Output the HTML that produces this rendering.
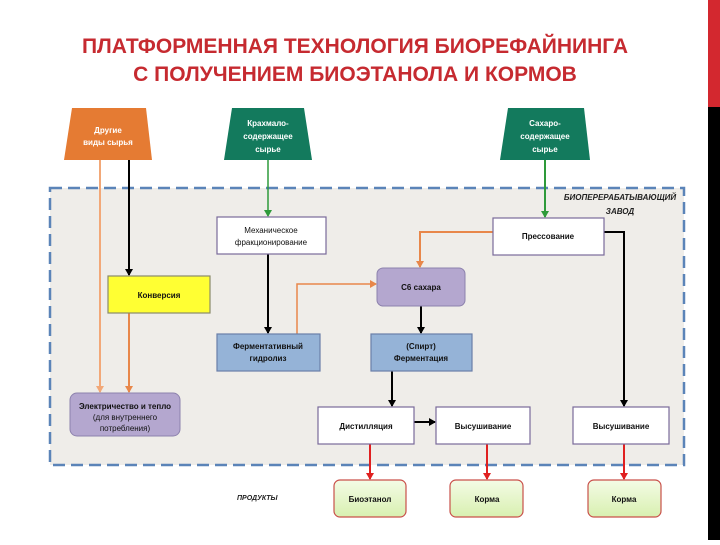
<!DOCTYPE html>
<html><head><meta charset="utf-8"><style>
html,body{margin:0;padding:0;background:#fff;}
body{width:720px;height:540px;overflow:hidden;position:relative;font-family:"Liberation Sans","DejaVu Sans",sans-serif;}
svg text{font-family:"Liberation Sans","DejaVu Sans",sans-serif;}
</style></head><body>
<svg width="720" height="540" viewBox="0 0 720 540" xmlns="http://www.w3.org/2000/svg">
<defs>
<marker id="ak" markerWidth="8" markerHeight="8" refX="6" refY="4" orient="auto" markerUnits="userSpaceOnUse"><path d="M0,0 L7,4 L0,8 z" fill="#000"/></marker>
<marker id="ag" markerWidth="8" markerHeight="8" refX="6" refY="4" orient="auto" markerUnits="userSpaceOnUse"><path d="M0,0 L7,4 L0,8 z" fill="#2e9a3a"/></marker>
<marker id="ar" markerWidth="8" markerHeight="8" refX="6" refY="4" orient="auto" markerUnits="userSpaceOnUse"><path d="M0,0 L7,4 L0,8 z" fill="#e02020"/></marker>
<marker id="ao" markerWidth="8" markerHeight="8" refX="6" refY="4" orient="auto" markerUnits="userSpaceOnUse"><path d="M0,0 L7,4 L0,8 z" fill="#e8874a"/></marker>
<marker id="al" markerWidth="8" markerHeight="8" refX="6" refY="4" orient="auto" markerUnits="userSpaceOnUse"><path d="M0,0 L7,4 L0,8 z" fill="#f2a878"/></marker>
<linearGradient id="pg" x1="0" y1="0" x2="0" y2="1"><stop offset="0" stop-color="#f4fbe6"/><stop offset="1" stop-color="#d8f0b0"/></linearGradient>
</defs>
<rect x="708" y="0" width="12" height="107" fill="#d3282f"/>
<rect x="708" y="107" width="12" height="433" fill="#000"/>
<text x="355" y="53" text-anchor="middle" font-size="21" font-weight="bold" fill="#c62a30">ПЛАТФОРМЕННАЯ ТЕХНОЛОГИЯ БИОРЕФАЙНИНГА</text>
<text x="355" y="81" text-anchor="middle" font-size="21" font-weight="bold" fill="#c62a30">С ПОЛУЧЕНИЕМ БИОЭТАНОЛА И КОРМОВ</text>

<rect x="50" y="188" width="634" height="277" fill="#efede9" stroke="#5b84b8" stroke-width="2.5" stroke-dasharray="12,6"/>
<text x="620" y="200" text-anchor="middle" font-size="8" font-weight="bold" font-style="italic" fill="#222">БИОПЕРЕРАБАТЫВАЮЩИЙ</text>
<text x="620" y="214" text-anchor="middle" font-size="8" font-weight="bold" font-style="italic" fill="#222">ЗАВОД</text>

<polygon points="72,108 146,108 152,160 64,160" fill="#e57b33"/>
<text x="108" y="133" text-anchor="middle" font-size="8" font-weight="bold" fill="#fff">Другие</text>
<text x="108" y="145" text-anchor="middle" font-size="8" font-weight="bold" fill="#fff">виды сырья</text>
<polygon points="232,108 304,108 312,160 224,160" fill="#137a5d"/>
<text x="268" y="126" text-anchor="middle" font-size="8" font-weight="bold" fill="#fff">Крахмало-</text>
<text x="268" y="139" text-anchor="middle" font-size="8" font-weight="bold" fill="#fff">содержащее</text>
<text x="268" y="152" text-anchor="middle" font-size="8" font-weight="bold" fill="#fff">сырье</text>
<polygon points="508,108 584,108 590,160 500,160" fill="#137a5d"/>
<text x="545" y="126" text-anchor="middle" font-size="8" font-weight="bold" fill="#fff">Сахаро-</text>
<text x="545" y="139" text-anchor="middle" font-size="8" font-weight="bold" fill="#fff">содержащее</text>
<text x="545" y="152" text-anchor="middle" font-size="8" font-weight="bold" fill="#fff">сырье</text>

<g fill="none" stroke-width="2">
<line x1="100" y1="160" x2="100" y2="392" stroke="#f2a878" marker-end="url(#al)"/>
<line x1="129" y1="160" x2="129" y2="275" stroke="#000" marker-end="url(#ak)"/>
<line x1="129" y1="313" x2="129" y2="392" stroke="#e8874a" marker-end="url(#ao)"/>
<line x1="268" y1="160" x2="268" y2="216" stroke="#2e9a3a" stroke-width="1.5" marker-end="url(#ag)"/>
<line x1="545" y1="160" x2="545" y2="217" stroke="#2e9a3a" marker-end="url(#ag)"/>
<line x1="268" y1="254" x2="268" y2="333" stroke="#000" marker-end="url(#ak)"/>
<polyline points="297,334 297,284 376,284" stroke="#e8874a" stroke-width="1.5" marker-end="url(#ao)"/>
<polyline points="493,232 420,232 420,267" stroke="#e8874a" marker-end="url(#ao)"/>
<polyline points="604,232 624,232 624,406" stroke="#000" marker-end="url(#ak)"/>
<line x1="421" y1="306" x2="421" y2="333" stroke="#000" marker-end="url(#ak)"/>
<line x1="392" y1="371" x2="392" y2="406" stroke="#000" marker-end="url(#ak)"/>
<line x1="414" y1="422" x2="435" y2="422" stroke="#000" marker-end="url(#ak)"/>
<line x1="370" y1="444" x2="370" y2="479" stroke="#e02020" marker-end="url(#ar)"/>
<line x1="487" y1="444" x2="487" y2="479" stroke="#e02020" marker-end="url(#ar)"/>
<line x1="624" y1="444" x2="624" y2="479" stroke="#e02020" marker-end="url(#ar)"/>
</g>

<rect x="217" y="217" width="109" height="37" fill="#fff" stroke="#7a6a9a" stroke-width="1.2"/>
<text x="271" y="233" text-anchor="middle" font-size="8" fill="#111">Механическое</text>
<text x="271" y="245" text-anchor="middle" font-size="8" fill="#111">фракционирование</text>
<rect x="493" y="218" width="111" height="37" fill="#fff" stroke="#7a6a9a" stroke-width="1.2"/>
<text x="548" y="239" text-anchor="middle" font-size="8" font-weight="bold" fill="#111">Прессование</text>
<rect x="108" y="276" width="102" height="37" fill="#ffff33" stroke="#8a8a6a" stroke-width="1.2"/>
<text x="159" y="298" text-anchor="middle" font-size="8" font-weight="bold" fill="#111">Конверсия</text>
<rect x="377" y="268" width="88" height="38" rx="6" fill="#b4a7cf" stroke="#8d82ad" stroke-width="1"/>
<text x="421" y="290" text-anchor="middle" font-size="8" font-weight="bold" fill="#111">C6 сахара</text>
<rect x="217" y="334" width="103" height="37" fill="#95b3d7" stroke="#6a7fa8" stroke-width="1.2"/>
<text x="268" y="349" text-anchor="middle" font-size="8" font-weight="bold" fill="#111">Ферментативный</text>
<text x="268" y="361" text-anchor="middle" font-size="8" font-weight="bold" fill="#111">гидролиз</text>
<rect x="371" y="334" width="101" height="37" fill="#95b3d7" stroke="#6a7fa8" stroke-width="1.2"/>
<text x="421" y="349" text-anchor="middle" font-size="8" font-weight="bold" fill="#111">(Спирт)</text>
<text x="421" y="361" text-anchor="middle" font-size="8" font-weight="bold" fill="#111">Ферментация</text>
<rect x="70" y="393" width="110" height="43" rx="7" fill="#b4a7cf" stroke="#8d82ad" stroke-width="1"/>
<text x="125" y="409" text-anchor="middle" font-size="8" font-weight="bold" fill="#111">Электричество и тепло</text>
<text x="125" y="420" text-anchor="middle" font-size="8" fill="#111">(для внутреннего</text>
<text x="125" y="431" text-anchor="middle" font-size="8" fill="#111">потребления)</text>
<rect x="318" y="407" width="96" height="37" fill="#fff" stroke="#7a6a9a" stroke-width="1.2"/>
<text x="366" y="429" text-anchor="middle" font-size="8" font-weight="bold" fill="#111">Дистилляция</text>
<rect x="436" y="407" width="94" height="37" fill="#fff" stroke="#7a6a9a" stroke-width="1.2"/>
<text x="483" y="429" text-anchor="middle" font-size="8" font-weight="bold" fill="#111">Высушивание</text>
<rect x="573" y="407" width="96" height="37" fill="#fff" stroke="#7a6a9a" stroke-width="1.2"/>
<text x="621" y="429" text-anchor="middle" font-size="8" font-weight="bold" fill="#111">Высушивание</text>

<text x="237" y="500" font-size="7" font-weight="bold" font-style="italic" fill="#222">ПРОДУКТЫ</text>
<rect x="334" y="480" width="72" height="37" rx="6" fill="url(#pg)" stroke="#c9504a" stroke-width="1.2"/>
<text x="370" y="502" text-anchor="middle" font-size="8" font-weight="bold" fill="#111">Биоэтанол</text>
<rect x="450" y="480" width="73" height="37" rx="6" fill="url(#pg)" stroke="#c9504a" stroke-width="1.2"/>
<text x="487" y="502" text-anchor="middle" font-size="8" font-weight="bold" fill="#111">Корма</text>
<rect x="588" y="480" width="73" height="37" rx="6" fill="url(#pg)" stroke="#c9504a" stroke-width="1.2"/>
<text x="624" y="502" text-anchor="middle" font-size="8" font-weight="bold" fill="#111">Корма</text>
</svg>
</body></html>
